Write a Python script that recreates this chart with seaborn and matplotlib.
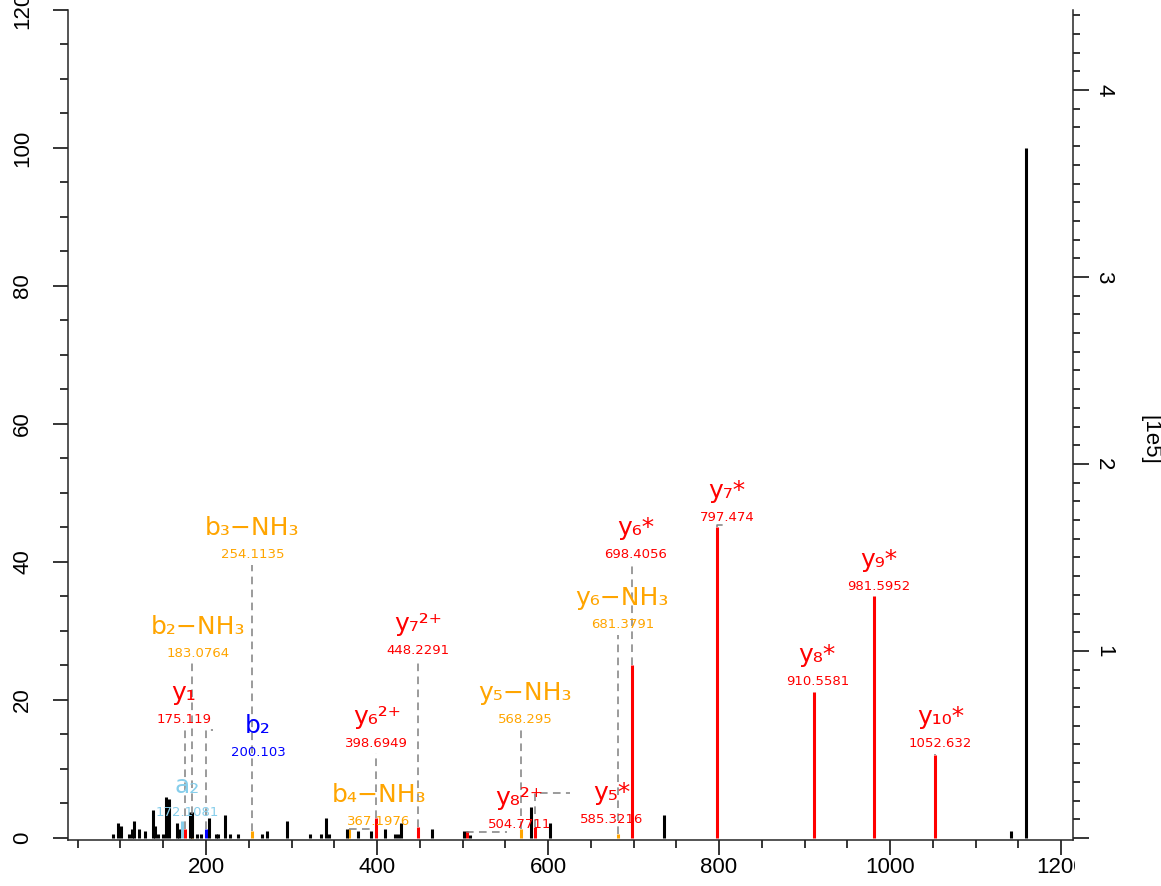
import matplotlib
matplotlib.use("Agg")
import matplotlib.pyplot as plt
import seaborn as sns
import pandas as pd
from matplotlib import font_manager
from matplotlib.ticker import FixedLocator, MultipleLocator
from matplotlib.transforms import Bbox, TransformedBbox

# annotated fragment ions (relative intensity, %)
ion_labels = ["a₂", "y₁", "b₂−NH₃", "b₂", "b₃−NH₃", "b₄−NH₃", "y₆²⁺", "y₇²⁺", "y₈²⁺",
              "y₅−NH₃", "y₅*", "y₆−NH₃", "y₆*", "y₇*", "y₈*", "y₉*", "y₁₀*"]
ion_mz = [172.1081, 175.119, 183.0764, 200.103, 254.1135, 367.1976, 398.6949, 448.2291, 504.7711,
          568.295, 585.3216, 681.3791, 698.4056, 797.474, 910.5581, 981.5952, 1052.632]
ion_mz_text = ["172.1081", "175.119", "183.0764", "200.103", "254.1135", "367.1976", "398.6949",
               "448.2291", "504.7711", "568.295", "585.3216", "681.3791", "698.4056", "797.474",
               "910.5581", "981.5952", "1052.632"]
ion_intensity = [2.5, 1.35, 3.5, 1.35, 1.0, 1.35, 2.9, 1.6, 1.0,
                 1.35, 1.6, 0.5, 25.1, 45.0, 21.2, 35.1, 12.0]
ion_kind = ["a", "y", "NH3", "b", "NH3", "NH3", "y", "y", "y",
            "NH3", "y", "NH3", "y", "y", "y", "y", "y"]

# unannotated peaks
peak_mz = [91.4, 96.9, 100.7, 110.4, 113.2, 116.2, 122.1, 128.7, 137.7, 140.8, 144.3, 150.1,
           153.3, 156.8, 165.8, 168.8, 181.3, 183.1, 189.5, 194.0, 203.5, 212.0, 214.0, 222.0,
           228.0, 237.8, 265.0, 271.0, 294.2, 321.5, 334.0, 340.0, 343.7, 365.0, 378.0, 393.5,
           409.0, 420.5, 424.0, 427.8, 464.8, 502.2, 509.0, 580.5, 602.7, 736.2, 1142.0, 1159.6]
peak_intensity = [0.6, 2.2, 1.7, 0.6, 1.35, 2.5, 1.35, 1.0, 4.1, 1.7, 0.6, 0.6,
                  5.9, 5.6, 2.2, 1.35, 3.7, 3.7, 0.6, 0.6, 2.9, 0.6, 0.6, 3.3,
                  0.6, 0.6, 0.6, 1.0, 2.5, 0.6, 0.6, 2.9, 0.6, 1.35, 1.0, 1.0,
                  1.35, 0.6, 0.6, 2.2, 1.35, 1.0, 0.4, 4.5, 2.2, 3.3, 1.0, 100.0]

base_peak_abs = 3.69  # base peak intensity, in 1e5

# label layout (m/z, %)
label_x = [177.9, 173.9, 190.7, 260.9, 254.1, 402.3, 399.9, 448.2, 566.4,
           573.0, 674.4, 686.9, 702.7, 809.5, 914.9, 987.1, 1059.3]
label_y = [3.19, 16.67, 26.23, 11.88, 40.58, 1.88, 13.19, 26.67, 1.45,
           16.67, 2.17, 30.43, 40.58, 45.94, 22.17, 35.94, 13.19]
leader_x = [172.1081, 175.119, 183.0764, 208.3, 254.1135, 394.1, 398.6949, 448.2291, 552.4,
            568.295, 625.3, 681.3791, 698.4056, 804.9, 910.5581, 981.5952, 1052.632]
leader_y = [2.5, 15.7, 25.5, 15.7, 39.6, 1.3, 12.3, 25.8, 0.9,
            15.7, 6.5, 29.4, 39.6, 45.3, 21.2, 35.1, 12.2]

kind_colors = {"y": "#FF0000", "b": "#0000FF", "a": "#87CEEB", "NH3": "#FFA500"}

sns.set_theme(style="ticks")
names = {f.name for f in font_manager.fontManager.ttflist}
narrow = "Liberation Sans Narrow" in names
tick_font = "Liberation Sans Narrow" if narrow else "Liberation Sans"
tick_size = 18 if narrow else 16
plt.rcParams["font.family"] = [tick_font, "DejaVu Sans"]
plt.rcParams["axes.linewidth"] = 1.1

ions = pd.DataFrame({"mz": ion_mz, "intensity": ion_intensity, "kind": ion_kind})
peaks = pd.DataFrame({"mz": peak_mz, "intensity": peak_intensity})

fig = plt.figure(figsize=(11.61, 8.86), dpi=100)
ax = fig.add_axes([68 / 1161, 1 - 840 / 886, 1005 / 1161, 830 / 886])
ax.set_xlim(38.6, 1214)
ax.set_ylim(-0.3, 120)

ax.vlines(ions["mz"], 0, ions["intensity"], colors=[kind_colors[k] for k in ions["kind"]],
          lw=2.2, zorder=2)
ax.vlines(peaks["mz"], 0, peaks["intensity"], colors="black", lw=2.2, zorder=2.5)

for i in range(len(ion_labels)):
    col = kind_colors[ion_kind[i]]
    ax.plot([ion_mz[i], ion_mz[i], leader_x[i]], [ion_intensity[i], leader_y[i], leader_y[i]],
            color="#808080", lw=1.1, ls=(0, (5, 3.5)), zorder=3)
    ax.text(label_x[i], label_y[i], ion_mz_text[i], ha="center", va="baseline",
            fontsize=9.5, color=col, family="DejaVu Sans", zorder=4)
    ax.annotate(ion_labels[i], (label_x[i], label_y[i]), xytext=(0, 16.5),
                textcoords="offset points", ha="center", va="baseline",
                fontsize=18, color=col, family="DejaVu Sans", zorder=4)

# left / bottom axes
ax.xaxis.set_major_locator(FixedLocator([200, 400, 600, 800, 1000, 1200]))
ax.xaxis.set_minor_locator(MultipleLocator(50))
ax.yaxis.set_major_locator(FixedLocator([0, 20, 40, 60, 80, 100, 120]))
ax.yaxis.set_minor_locator(MultipleLocator(5))
ax.tick_params(which="major", length=11, width=1.1, color="black", labelsize=tick_size,
               labelcolor="black", direction="out")
ax.tick_params(which="minor", length=5.5, width=1.1, color="black", direction="out")
ax.tick_params(axis="x", pad=1)
ax.tick_params(axis="y", pad=14, labelrotation=90)
for lab in ax.get_yticklabels():
    lab.set_va("center")
ax.spines["top"].set_visible(False)
ax.spines["right"].set_visible(False)
ax.grid(False)

# clip the last x label at the right spine like the reference
clip = TransformedBbox(Bbox([[0, 0], [1075 / 1161, 1]]), fig.transFigure)
last = ax.xaxis.get_major_ticks()[-1]
last.label1.set_clip_on(True)
last.label1.set_clip_box(clip)

# right axis: absolute intensity
ax2 = ax.twinx()
ax2.set_ylim(-0.3 * base_peak_abs / 100, 120 * base_peak_abs / 100)
ax2.yaxis.set_major_locator(FixedLocator([0, 1, 2, 3, 4]))
ax2.set_yticklabels(["", "1", "2", "3", "4"])
ax2.yaxis.set_minor_locator(MultipleLocator(0.1))
ax2.tick_params(axis="y", which="major", length=11.5, width=1.1, color="black",
                labelsize=tick_size, labelcolor="black", pad=3, labelrotation=-90)
ax2.tick_params(axis="y", which="minor", length=5, width=1.1, color="black")
for lab in ax2.get_yticklabels():
    lab.set_va("center")
for s in ["top", "left", "bottom"]:
    ax2.spines[s].set_visible(False)
ax2.grid(False)
ax2.set_ylabel("[1e5]", rotation=270, fontsize=tick_size, color="black")
ax2.yaxis.set_label_coords(1.0766, 0.482)
ax2.yaxis.label.set_va("center")
ax2.yaxis.label.set_ha("center")

fig.savefig("out.png", dpi=100)
